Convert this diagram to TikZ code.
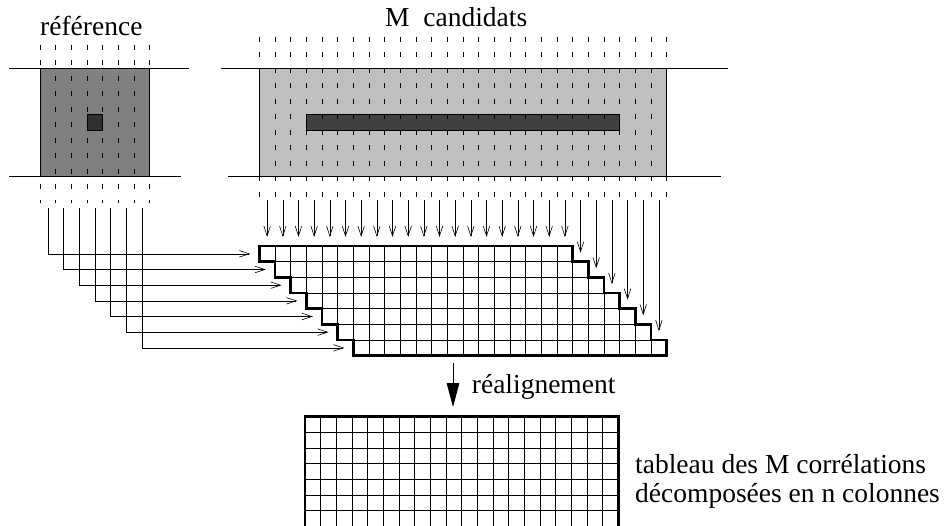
\documentclass[tikz,border=0pt]{standalone}
\usepackage{fontspec}
\setmainfont{Liberation Serif}
\usetikzlibrary{arrows.meta}

\definecolor{refgray}{gray}{0.50}
\definecolor{candgray}{gray}{0.75}
\definecolor{patchgray}{gray}{0.19}
\definecolor{bargray}{gray}{0.25}

\begin{document}
\begin{tikzpicture}[x=1pt,y=-1pt,
  lbl/.style={inner sep=0pt,anchor=base west,font=\fontsize{27.5}{29}\selectfont},
  sepline/.style={line width=0.8pt},
  colcut/.style={line width=0.8pt,dash pattern=on 5pt off 10.5pt},
  window/.style={draw=black,line width=0.6pt},
  feed/.style={line width=0.6pt,-{Straight Barb[length=10pt,width=6.5pt]}},
  cell/.style={line width=0.7pt},
  outline/.style={line width=2.6pt,line join=miter},
  realign/.style={line width=1pt,-{Triangle[length=24pt,width=12.6pt]}}]
\useasboundingbox (0,0) rectangle (949,526);
\clip (0,0) rectangle (949,526);
\def\c{15.67}

% ---- reference window (7 columns) ----
\node[lbl] (reflbl) at (40,36) {référence};
\fill[refgray] (40,68.3) rectangle ({40+7*\c},176.7);
\draw[window] (40,68.3) rectangle ({40+7*\c},176.7);
\draw[window,fill=patchgray] ({40+3*\c},{122.5-\c/2}) rectangle ({40+4*\c},{122.5+\c/2});
\draw[sepline] (9.3,68.3) -- (189.3,68.3);
\draw[sepline] (9.3,176.7) -- (181,176.7);
\foreach \k in {0,...,7}
  \draw[colcut] ({40+\k*\c},45) -- ({40+\k*\c},203);

% ---- search zone of the M candidates (26 columns) ----
\node[lbl] (candlbl) at (385,27) {M~ candidats};
\fill[candgray] (259.3,68.3) rectangle ({259.3+26*\c},176.7);
\draw[window] (259.3,68.3) rectangle ({259.3+26*\c},176.7);
\draw[window,fill=bargray] ({259.3+3*\c},{122.5-\c/2}) rectangle ({259.3+23*\c},{122.5+\c/2});
\draw[sepline] (220.7,68.3) -- (728.3,68.3);
\draw[sepline] (228.3,176.7) -- (720.7,176.7);
\foreach \k in {0,...,26}
  \draw[colcut] ({259.3+\k*\c},36.7) -- ({259.3+\k*\c},198);

% ---- staircase of correlations: row i is shifted by i columns ----
\coordinate (stair) at (259.3,246);
\foreach \i in {0,...,6}
  \foreach \k in {0,...,19}
    \draw[cell] ([shift={({(\i+\k)*\c},{\i*\c})}]stair) rectangle ++(\c,\c);
\draw[outline] (stair)
  -- ++({20*\c},0)
  \foreach \i in {1,...,6} { -- ++(0,\c) -- ++(\c,0) }
  -- ++(0,\c) -- ++({-20*\c},0)
  \foreach \i in {1,...,6} { -- ++(0,-\c) -- ++(-\c,0) }
  -- cycle;

% columns of the candidates feed the rows from above
\foreach \k in {0,...,25} {
  \pgfmathsetmacro{\r}{max(0,\k-19)}
  \coordinate (cand\k) at ({259.3+(\k+0.5)*\c},200);
  \coordinate (top\k) at ({259.3+(\k+0.5)*\c},{246+\r*\c-9});
  \draw[feed] (cand\k) -- (top\k);
}

% columns of the reference feed the rows from the left
\foreach \i in {0,...,6} {
  \coordinate (ref\i) at ({40+(\i+0.5)*\c},208);
  \coordinate (row\i) at ({259.3+\i*\c-9},{246+(\i+0.5)*\c});
  \draw[feed] (ref\i) |- (row\i);
}

% ---- realignment ----
\coordinate (rtop) at (453,363);
\coordinate (rbot) at (453,407);
\draw[realign] (rtop) -- (rbot);
\node[lbl] (realbl) at (471.7,393) {réalignement};

% ---- aligned table: 20 columns, running past the lower edge ----
\coordinate (table) at (305,416.7);
\foreach \k in {1,...,19}
  \draw[cell] ([shift={({\k*\c},0)}]table) -- ++(0,{8*\c});
\foreach \i in {1,...,7}
  \draw[cell] ([shift={(0,{\i*\c})}]table) -- ++({20*\c},0);
\draw[outline] ([shift={(0,{8*\c})}]table) -- (table) -- ++({20*\c},0) -- ++(0,{8*\c});

\node[lbl] (tab1) at (635,473) {tableau des M corrélations};
\node[lbl] (tab2) at (635,502) {décomposées en n colonnes};
\end{tikzpicture}
\end{document}
